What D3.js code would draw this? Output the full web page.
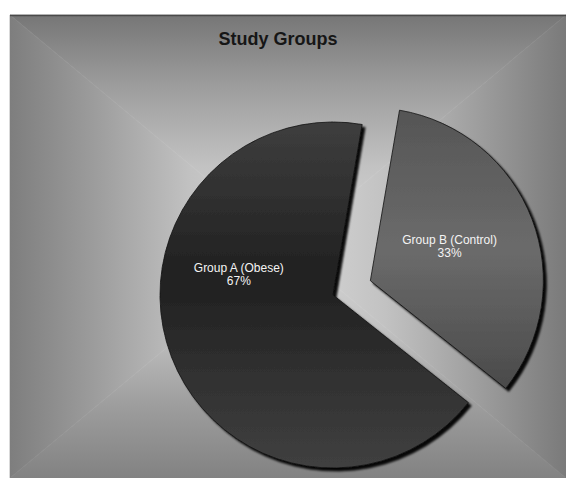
<!DOCTYPE html>
<html>
<head>
<meta charset="utf-8">
<script src="https://cdn.jsdelivr.net/npm/d3@7"></script>
<style>
  html, body { margin: 0; padding: 0; background: #ffffff; }
  svg { display: block; }
</style>
</head>
<body>
<svg id="chart" width="566" height="478"></svg>
<script>
// ---- data ----
const title = "Study Groups";
const categories = ["Group A (Obese)", "Group B (Control)"];
const values = [67, 33];
const percentLabels = ["67%", "33%"];
const exploded = [false, true];

// ---- layout ----
const W = 566, H = 478;
const frame = { x: 10, y: 15, w: 556, h: 463 };
const cx = 333, cy = 295, radius = 173, explodeDist = 40;
const startDeg = 128.5;

const svg = d3.select("#chart");
const defs = svg.append("defs");

// background box gradient: 4 triangles
const mx = frame.x + frame.w / 2, my = frame.y + frame.h / 2;
const x0 = frame.x, x1 = frame.x + frame.w, y0 = frame.y, y1 = frame.y + frame.h;
function lg(id, gx1, gy1, gx2, gy2, edge) {
  const g = defs.append("linearGradient").attr("id", id)
    .attr("gradientUnits", "userSpaceOnUse")
    .attr("x1", gx1).attr("y1", gy1).attr("x2", gx2).attr("y2", gy2);
  const stops = [[0, edge], [0.3, "#9c9c9c"], [0.65, "#c2c2c2"], [1, "#d8d8d8"]];
  stops.forEach(s => g.append("stop").attr("offset", s[0]).attr("stop-color", s[1]));
}
lg("bgTop", 0, y0, 0, my, "#767676");
lg("bgBottom", 0, y1, 0, my, "#828282");
lg("bgLeft", x0, 0, mx, 0, "#7e7e7e");
lg("bgRight", x1, 0, mx, 0, "#7a7a7a");
const bg = svg.append("g");
const tri = (pts, fill) => bg.append("polygon").attr("points", pts.map(p => p.join(",")).join(" "))
  .attr("fill", fill).attr("stroke", fill).attr("stroke-width", 0.6);
tri([[x0, y0], [x1, y0], [mx, my]], "url(#bgTop)");
tri([[x0, y1], [x1, y1], [mx, my]], "url(#bgBottom)");
tri([[x0, y0], [x0, y1], [mx, my]], "url(#bgLeft)");
tri([[x1, y0], [x1, y1], [mx, my]], "url(#bgRight)");
svg.append("line").attr("x1", x0).attr("x2", x1).attr("y1", y0 + 0.5).attr("y2", y0 + 0.5)
  .attr("stroke", "#4a4a4a").attr("stroke-width", 1.5);

// title
svg.append("text").attr("x", 278).attr("y", 45)
  .attr("text-anchor", "middle")
  .attr("font-family", "Liberation Sans, Arial, sans-serif")
  .attr("font-weight", "bold").attr("font-size", 18)
  .attr("fill", "#161616").text(title);

// slice gradients
const sliceStops = [
  [["0", "#3e3e3e"], ["0.45", "#202020"], ["1", "#404040"]],
  [["0", "#555555"], ["0.5", "#6b6b6b"], ["1", "#4a4a4a"]]
];
sliceStops.forEach((stops, i) => {
  const g = defs.append("linearGradient").attr("id", "slice" + i)
    .attr("x1", 0).attr("y1", 0).attr("x2", 0).attr("y2", 1);
  stops.forEach(s => g.append("stop").attr("offset", s[0]).attr("stop-color", s[1]));
});

// shadow filter
const f = defs.append("filter").attr("id", "shadow")
  .attr("x", "-10%").attr("y", "-10%").attr("width", "130%").attr("height", "130%");
f.append("feDropShadow").attr("dx", 3).attr("dy", 3).attr("stdDeviation", 1.2)
  .attr("flood-color", "#000").attr("flood-opacity", 0.95);

// pie
const start = startDeg * Math.PI / 180;
const pie = d3.pie().sort(null).startAngle(start).endAngle(start + 2 * Math.PI);
const arcs = pie(values);
const arc = d3.arc().innerRadius(0).outerRadius(radius);
const labelArc = d3.arc().innerRadius(radius * 0.49).outerRadius(radius * 0.49);

function offsetFor(d, i) {
  if (!exploded[i]) return [0, 0];
  const m = (d.startAngle + d.endAngle) / 2;
  return [Math.sin(m) * explodeDist, -Math.cos(m) * explodeDist];
}

const gPie = svg.append("g").attr("transform", `translate(${cx},${cy})`);
const slices = gPie.selectAll("g.slice").data(arcs).enter().append("g")
  .attr("class", "slice")
  .attr("transform", (d, i) => { const o = offsetFor(d, i); return `translate(${o[0]},${o[1]})`; });

slices.append("path")
  .attr("d", arc)
  .attr("fill", (d, i) => `url(#slice${i})`)
  .attr("stroke", "#111")
  .attr("stroke-width", 0.8)
  .attr("filter", "url(#shadow)");

// label adjustment for the main slice
const labelAdjust = [[-15, -51], [0, -4]];
const labels = slices.append("text")
  .attr("transform", (d, i) => {
    const c = labelArc.centroid(d);
    return `translate(${c[0] + labelAdjust[i][0]},${c[1] + labelAdjust[i][1]})`;
  })
  .attr("text-anchor", "middle")
  .attr("font-family", "Liberation Sans, Arial, sans-serif")
  .attr("font-size", 12)
  .attr("fill", "#f4f4f4");
labels.append("tspan").attr("x", 0).attr("dy", -2).text((d, i) => categories[i]);
labels.append("tspan").attr("x", 0).attr("dy", 13).text((d, i) => percentLabels[i]);
</script>
</body>
</html>
